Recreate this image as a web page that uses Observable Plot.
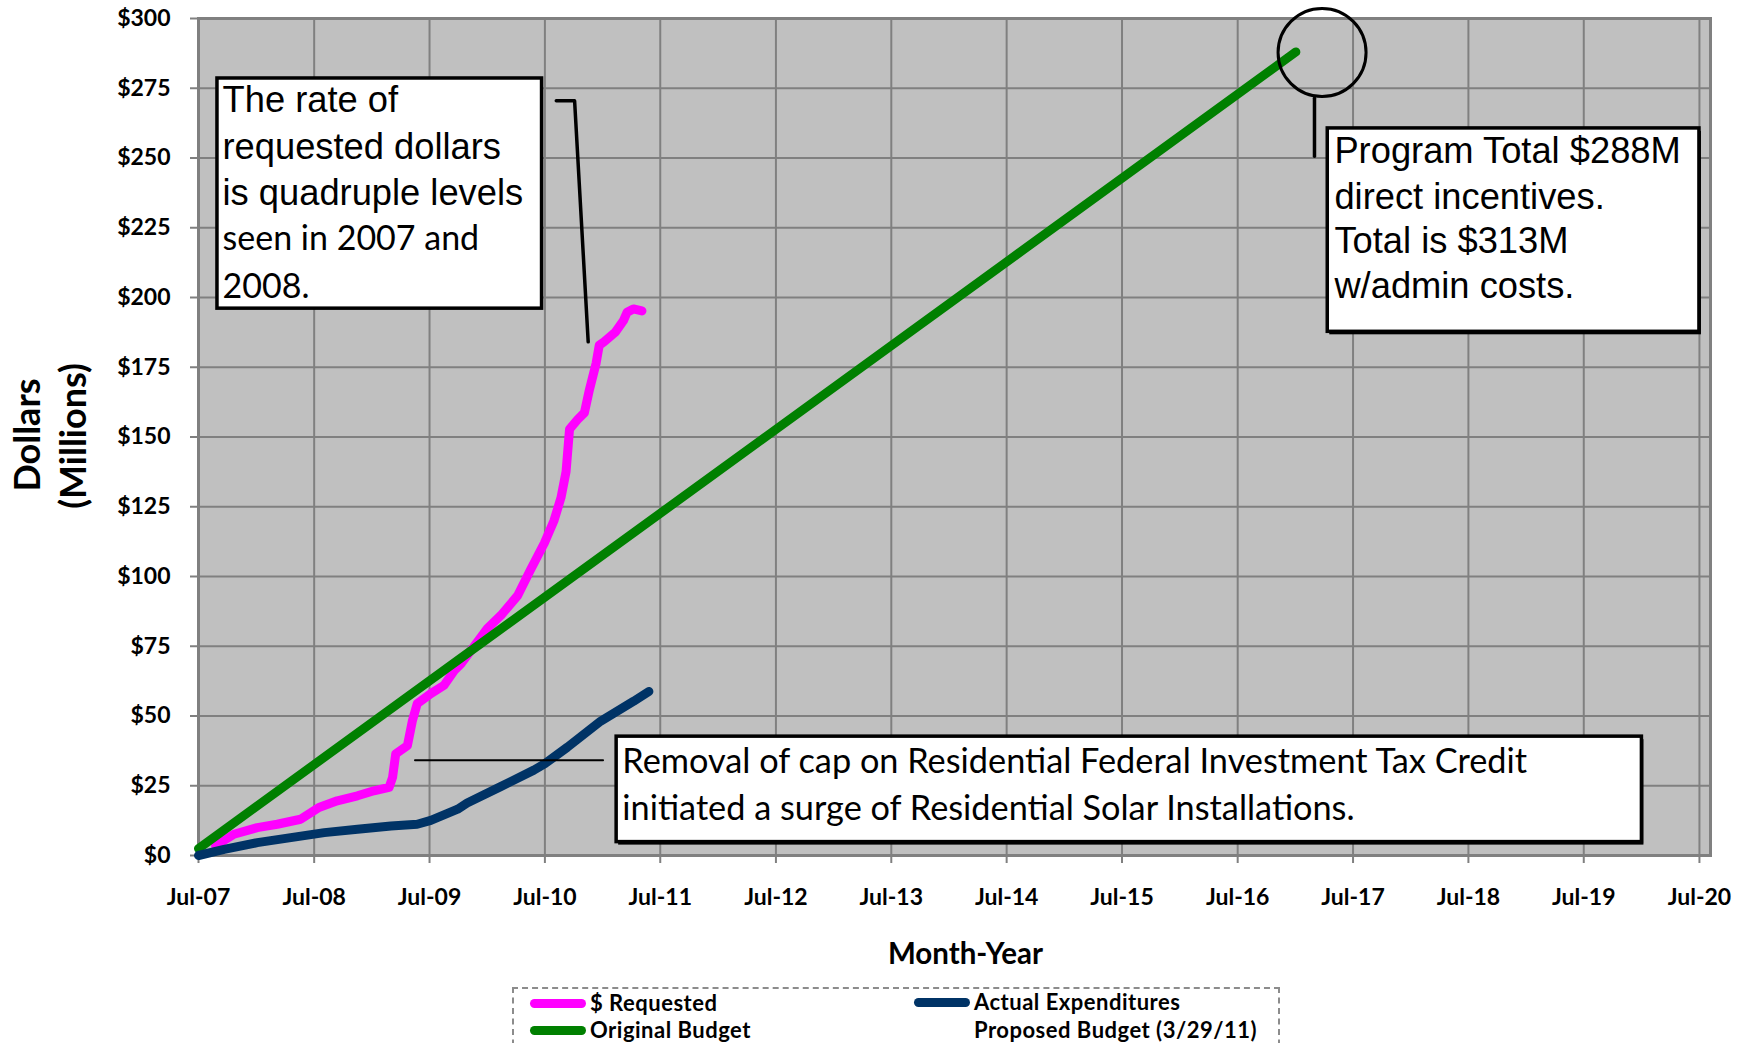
<!DOCTYPE html>
<html>
<head>
<meta charset="utf-8">
<script src="https://cdn.jsdelivr.net/npm/d3@7"></script>
<script src="https://cdn.jsdelivr.net/npm/@observablehq/plot@0.6"></script>
<style>
  html, body { margin: 0; padding: 0; background: #fff; }
  #wrap { position: relative; width: 1744px; height: 1043px; overflow: hidden; background: #fff; }
  #legend {
    position: absolute; left: 512px; top: 987px; width: 768px; height: 90px;
    box-sizing: border-box; border: 2px dashed #8c8c8c;
    font-family: Lato, "Noto Sans", sans-serif; font-weight: bold; font-size: 22px;
    letter-spacing: 0.5px; color: #000;
  }
  #legend .item { position: absolute; display: flex; align-items: center; height: 20px; line-height: 20px; white-space: nowrap; }
  #legend .sw { width: 56px; height: 9px; border-radius: 5px; margin-right: 4px; }
</style>
</head>
<body>
<div id="wrap">
  <div id="chart"></div>
  <div id="legend"></div>
</div>
<script>
// ---- axes ----
const xTickDates = ["2007-07-01","2008-07-01","2009-07-01","2010-07-01","2011-07-01","2012-07-01","2013-07-01",
  "2014-07-01","2015-07-01","2016-07-01","2017-07-01","2018-07-01","2019-07-01","2020-07-01"];
const xTickLabels = ["Jul-07","Jul-08","Jul-09","Jul-10","Jul-11","Jul-12","Jul-13",
  "Jul-14","Jul-15","Jul-16","Jul-17","Jul-18","Jul-19","Jul-20"];
const xDomain = ["2007-07-01", "2020-08-05"];
const yTicks = [0, 25, 50, 75, 100, 125, 150, 175, 200, 225, 250, 275, 300];

// ---- series (dollars, millions) ----
const seriesNames = ["$ Requested", "Original Budget", "Actual Expenditures"];
const seriesColors = ["#ff00ff", "#008000", "#003366"];

const requestedDates = ["2007-08-24","2007-10-21","2008-01-03","2008-03-06","2008-05-19","2008-07-16","2008-09-12",
  "2008-11-15","2009-01-06","2009-02-23","2009-03-06","2009-03-16","2009-04-22","2009-05-08","2009-05-23",
  "2009-07-05","2009-08-16","2009-09-18","2009-10-08","2009-12-31","2010-02-12","2010-04-06","2010-05-17",
  "2010-06-29","2010-07-30","2010-08-21","2010-09-06","2010-09-17","2010-10-13","2010-11-03","2010-11-19",
  "2010-12-10","2010-12-20","2011-01-04","2011-02-09","2011-03-07","2011-03-18","2011-04-07","2011-05-04"];
const requestedValues = [3.5, 7.6, 10.0, 11.2, 13.0, 17.2, 19.6,
  21.4, 23.2, 24.4, 28.0, 36.4, 39.4, 48.4, 54.4,
  58.0, 61.0, 66.4, 68.6, 81.4, 86.1, 93.2, 102.5,
  111.9, 120.1, 128.3, 137.6, 152.8, 156.3, 158.7, 167.0,
  176.4, 182.9, 184.1, 187.6, 191.8, 194.7, 195.9, 195.2];

const budgetDates = ["2007-07-01", "2017-01-01"];
const budgetValues = [2.5, 288];

const actualDates = ["2007-07-01","2007-09-20","2008-01-03","2008-04-18","2008-08-02","2008-11-15","2009-03-01",
  "2009-05-23","2009-07-05","2009-09-28","2009-10-28","2010-02-11","2010-05-27","2010-07-01","2010-09-10",
  "2010-12-25","2011-04-08","2011-05-26"];
const actualValues = [0, 2.2, 4.6, 6.4, 8.2, 9.4, 10.6,
  11.2, 12.6, 16.6, 18.8, 24.7, 30.6, 32.9, 38.8,
  48.2, 55.3, 58.8];

// ---- legend ----
const legendNames = ["$ Requested", "Original Budget", "Actual Expenditures", "Proposed Budget (3/29/11)"];
const legendColors = ["#ff00ff", "#008000", "#003366", "transparent"];

// ---- annotations ----
const noteBoxes = [
  {x1: "2007-08-30", x2: "2010-06-22", y1: 196.0, y2: 278.5, shadow: false},
  {x1: "2017-04-12", x2: "2020-07-01", y1: 187.7, y2: 260.6, shadow: true},
  {x1: "2011-02-13", x2: "2020-01-01", y1: 4.8, y2: 42.6, shadow: true}
];
const noteLinesArial = [
  {date: "2007-09-15", value: 270.5, text: "The rate of"},
  {date: "2007-09-15", value: 253.8, text: "requested dollars"},
  {date: "2007-09-15", value: 237.5, text: "is quadruple levels"},
  {date: "2017-05-03", value: 252.2, text: "Program Total $288M"},
  {date: "2017-05-03", value: 235.9, text: "direct incentives."},
  {date: "2017-05-03", value: 220.0, text: "Total is $313M"},
  {date: "2017-05-03", value: 204.0, text: "w/admin costs."}
];
const noteLinesSans = [
  {date: "2007-09-15", value: 220.8, text: "seen in 2007 and"},
  {date: "2007-09-15", value: 203.6, text: "2008."}
];
const noteLinesWide = [
  {date: "2011-03-03", value: 33.5, text: "Removal of cap on Residential Federal Investment Tax Credit"},
  {date: "2011-03-03", value: 16.7, text: "initiated a surge of Residential Solar Installations."}
];
const leaderThick = [
  {id: "rate", date: "2010-08-06", value: 270.5},
  {id: "rate", date: "2010-10-03", value: 270.5},
  {id: "rate", date: "2010-11-15", value: 184.1},
  {id: "total", date: "2017-03-01", value: 271.4},
  {id: "total", date: "2017-03-01", value: 250.6}
];
const leaderThin = [
  {id: "cap", date: "2009-05-16", value: 34.1},
  {id: "cap", date: "2011-01-01", value: 34.1}
];
const totalMarker = [{date: "2017-03-25", value: 287.8}];

// ---- build tables ----
const parse = d3.utcParse("%Y-%m-%d");
const rows = [];
[[requestedDates, requestedValues], [budgetDates, budgetValues], [actualDates, actualValues]]
  .forEach(([ds, vs], i) => ds.forEach((d, j) => rows.push({series: seriesNames[i], date: parse(d), value: vs[j]})));
const withDates = arr => arr.map(d => ({...d, date: parse(d.date)}));
const boxes = noteBoxes.map(b => ({...b, x1: parse(b.x1), x2: parse(b.x2)}));
const xTicks = xTickDates.map(parse);
const labelByTime = new Map(xTicks.map((d, i) => [+d, xTickLabels[i]]));

const arial = "'Liberation Sans', Arimo, Arial, sans-serif";
const calibri = "Lato, 'Noto Sans', sans-serif";

const chart = Plot.plot({
  width: 1744,
  height: 985,
  marginLeft: 198,
  marginRight: 34,
  marginTop: 18,
  marginBottom: 130,
  style: {background: "white", fontFamily: calibri, color: "black", overflow: "visible"},
  x: {type: "time", domain: xDomain.map(parse)},
  y: {domain: [0, 300]},
  color: {domain: seriesNames, range: seriesColors},
  marks: [
    Plot.frame({fill: "#c0c0c0"}),
    Plot.gridX(xTicks, {stroke: "#808080", strokeOpacity: 1, strokeWidth: 2}),
    Plot.gridY(yTicks, {stroke: "#808080", strokeOpacity: 1, strokeWidth: 2}),
    Plot.frame({stroke: "#808080", strokeWidth: 3}),
    Plot.axisX(xTicks, {
      tickFormat: d => labelByTime.get(+d), tickSize: 8, tickPadding: 25,
      stroke: "#808080", strokeWidth: 2, fill: "black",
      fontSize: 23, fontWeight: "bold", label: null
    }),
    Plot.axisY(yTicks, {
      tickFormat: d => "$" + d, tickSize: 8, tickPadding: 20,
      stroke: "#808080", strokeWidth: 2, fill: "black",
      fontSize: 23, fontWeight: "bold", label: null
    }),
    Plot.text(["Month-Year"], {text: d => d, frameAnchor: "bottom", dx: 11, dy: 108,
      fontSize: 29.5, fontWeight: "bold", fill: "black"}),
    Plot.text(["Dollars"], {text: d => d, frameAnchor: "left", textAnchor: "middle", rotate: -90, dx: -170, dy: -2,
      fontSize: 36, fontWeight: "bold", fill: "black"}),
    Plot.text(["(Millions)"], {text: d => d, frameAnchor: "left", textAnchor: "middle", rotate: -90, dx: -124, dy: -1,
      fontSize: 36, fontWeight: "bold", fill: "black"}),

    // program curves
    Plot.line(rows, {x: "date", y: "value", z: "series", stroke: "series",
      strokeWidth: 9, strokeLinejoin: "round", strokeLinecap: "round"}),

    // callouts
    Plot.line(withDates(leaderThick), {x: "date", y: "value", z: "id", stroke: "black", strokeWidth: 3.5}),
    Plot.line(withDates(leaderThin), {x: "date", y: "value", z: "id", stroke: "black", strokeWidth: 2}),
    Plot.dot(withDates(totalMarker), {x: "date", y: "value", r: 44, stroke: "black", strokeWidth: 3, fill: "none"}),
    Plot.rect(boxes.filter(b => b.shadow), {x1: "x1", x2: "x2", y1: "y1", y2: "y2", fill: "black", dx: 2, dy: 3}),
    Plot.rect(boxes, {x1: "x1", x2: "x2", y1: "y1", y2: "y2", fill: "white", stroke: "black", strokeWidth: 3.5}),
    Plot.text(withDates(noteLinesArial), {x: "date", y: "value", text: "text", textAnchor: "start",
      lineAnchor: "middle", fontSize: 36.3, fontFamily: arial, fill: "black"}),
    Plot.text(withDates(noteLinesSans), {x: "date", y: "value", text: "text", textAnchor: "start",
      lineAnchor: "middle", fontSize: 34, fontFamily: calibri, fill: "black"}),
    Plot.text(withDates(noteLinesWide), {x: "date", y: "value", text: "text", textAnchor: "start",
      lineAnchor: "middle", fontSize: 34.3, fontFamily: calibri, fill: "black"})
  ]
});
document.getElementById("chart").appendChild(chart);

// legend below the plot
const legend = document.getElementById("legend");
const slots = [[16, 4], [16, 31], [400, 3], [400, 31]];
legendNames.forEach((name, i) => {
  const item = document.createElement("div");
  item.className = "item";
  item.style.left = slots[i][0] + "px";
  item.style.top = slots[i][1] + "px";
  const sw = document.createElement("span");
  sw.className = "sw";
  sw.style.background = legendColors[i];
  const label = document.createElement("span");
  label.textContent = name;
  item.appendChild(sw);
  item.appendChild(label);
  legend.appendChild(item);
});
</script>
</body>
</html>
